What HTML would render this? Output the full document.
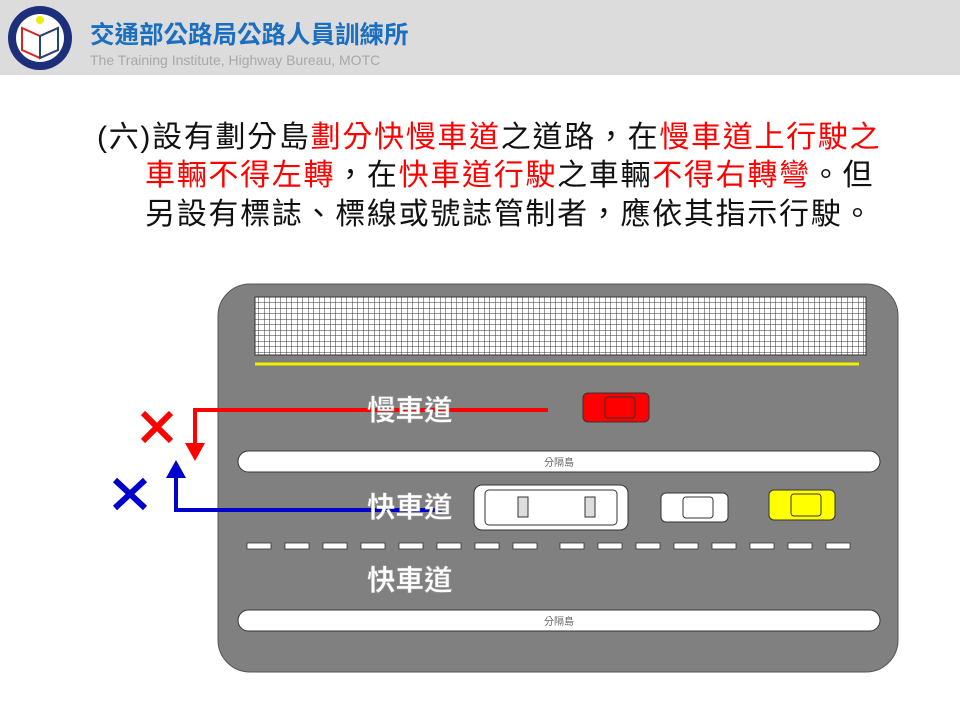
<!DOCTYPE html>
<html><head><meta charset="utf-8"><style>
body{margin:0;width:960px;height:720px;background:#fff;position:relative;overflow:hidden;font-family:"Liberation Sans","Noto Sans CJK TC",sans-serif}
.hdr{position:absolute;left:0;top:0;width:960px;height:75px;background:#dcdcdc}
.t{position:absolute;font-size:30px;letter-spacing:1.7px;color:#111;white-space:nowrap;font-family:"Liberation Sans","Noto Sans CJK TC",sans-serif}
.r{color:#f00}
</style></head><body>
<div class="hdr"></div>
<svg style="position:absolute;left:0;top:0" width="960" height="720">
<circle cx="40" cy="38" r="32" fill="#1d2e7a"/><circle cx="40" cy="38" r="24" fill="#fff"/>
<path d="M22 28 L40 36 L58 28 L58 50 L40 58 L22 50Z" fill="none" stroke="#d22" stroke-width="2"/>
<path d="M40 36 L58 28 L58 50 L40 58Z" fill="none" stroke="#247" stroke-width="2"/>
<circle cx="40" cy="20" r="4" fill="#ee0"/>
<text x="90" y="43" font-size="24.5" fill="#1a6fc0" font-weight="bold" font-family="Liberation Sans,Noto Sans CJK TC,sans-serif">交通部公路局公路人員訓練所</text>
<text x="90" y="65" font-size="14" fill="#a8a8a8" font-family="Liberation Sans,sans-serif">The Training Institute, Highway Bureau,  MOTC</text>

<rect x="218" y="284" width="680" height="388" rx="32" fill="#808080" stroke="#555" stroke-width="1"/>
<defs><pattern id="g" width="5.5" height="5.5" patternUnits="userSpaceOnUse"><rect width="5.5" height="5.5" fill="#fff"/><path d="M0 0H5.5M0 0V5.5" stroke="#333" stroke-width="1"/></pattern></defs>
<rect x="255" y="297" width="611" height="58" fill="url(#g)" stroke="#333"/>
<line x1="255" y1="364" x2="859" y2="364" stroke="#ee0" stroke-width="3"/>
<rect x="238" y="451" width="642" height="21" rx="10.5" fill="#fff" stroke="#333"/>
<text x="559" y="466" font-size="10" fill="#666" text-anchor="middle">分隔島</text>
<rect x="238" y="610" width="642" height="21" rx="10.5" fill="#fff" stroke="#333"/>
<text x="559" y="625" font-size="10" fill="#666" text-anchor="middle">分隔島</text>
<g fill="#fff" stroke="#333" stroke-width="0.8">
<rect x="247" y="543" width="24" height="6"/><rect x="285" y="543" width="24" height="6"/><rect x="323" y="543" width="24" height="6"/><rect x="361" y="543" width="24" height="6"/><rect x="399" y="543" width="24" height="6"/><rect x="437" y="543" width="24" height="6"/><rect x="475" y="543" width="24" height="6"/><rect x="513" y="543" width="24" height="6"/><rect x="560" y="543" width="24" height="6"/><rect x="598" y="543" width="24" height="6"/><rect x="636" y="543" width="24" height="6"/><rect x="674" y="543" width="24" height="6"/><rect x="712" y="543" width="24" height="6"/><rect x="750" y="543" width="24" height="6"/><rect x="788" y="543" width="24" height="6"/><rect x="826" y="543" width="24" height="6"/>
</g>
<g stroke="#333" stroke-width="1">
<rect x="583" y="393" width="66" height="29" rx="5" fill="#f00"/><rect x="605" y="397" width="30" height="21" rx="3" fill="#f00"/>
<rect x="661" y="493" width="67" height="29" rx="5" fill="#fff"/><rect x="683" y="497" width="30" height="21" rx="3" fill="#fff"/>
<rect x="769" y="490" width="66" height="30" rx="5" fill="#ff0"/><rect x="791" y="494" width="30" height="22" rx="3" fill="#ff0"/>
<rect x="474" y="485" width="154" height="45" rx="8" fill="#fff"/><rect x="485" y="490" width="132" height="35" rx="4" fill="#fff"/>
<rect x="518" y="497" width="10" height="20" fill="#ddd"/><rect x="585" y="497" width="10" height="20" fill="#ddd"/>
</g>
<polyline points="548,410 195,410 195,445" fill="none" stroke="#f00" stroke-width="4"/>
<polygon points="185,443 205,443 195,461" fill="#f00"/>
<polyline points="442,510 176,510 176,475" fill="none" stroke="#00c" stroke-width="4"/>
<polygon points="166,478 186,478 176,460" fill="#00c"/>
<g font-size="28.5" font-weight="bold" fill="#fff" stroke="#999" stroke-width="0.5" font-family="Liberation Sans,Noto Sans CJK TC,sans-serif">
<text x="367" y="420">慢車道</text><text x="367" y="517">快車道</text><text x="367" y="590">快車道</text></g>
<path d="M143 413 L171 441 M171 413 L143 441" stroke="#f00" stroke-width="6"/>
<path d="M115 480 L145 508 M145 480 L115 508" stroke="#00c" stroke-width="6"/>
</svg>
<div class="t" style="left:97px;top:112px">(六)設有劃分島<span class="r">劃分快慢車道</span>之道路，在<span class="r">慢車道上行駛之</span></div>
<div class="t" style="left:145px;top:150px"><span class="r">車輛不得左轉</span>，在<span class="r">快車道行駛</span>之車輛<span class="r">不得右轉彎</span>。但</div>
<div class="t" style="left:145px;top:189px">另設有標誌、標線或號誌管制者，應依其指示行駛。</div>
</body></html>
